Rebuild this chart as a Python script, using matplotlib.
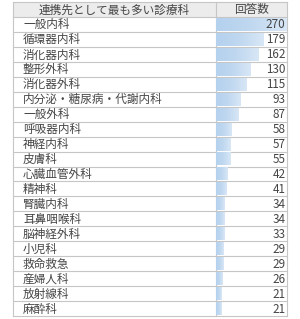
import numpy as np
import matplotlib.pyplot as plt
from matplotlib.colors import LinearSegmentedColormap

plt.rcParams['font.family'] = ['Noto Sans CJK JP', 'DejaVu Sans']

# -------------------------
# データ
# -------------------------
header_label = "連携先として最も多い診療科"
header_value = "回答数"
depts = ["一般内科", "循環器内科", "消化器内科", "整形外科", "消化器外科",
         "内分泌・糖尿病・代謝内科", "一般外科", "呼吸器内科", "神経内科", "皮膚科",
         "心臓血管外科", "精神科", "腎臓内科", "耳鼻咽喉科", "脳神経外科",
         "小児科", "救命救急", "産婦人科", "放射線科", "麻酔科"]
counts = [270, 179, 162, 130, 115, 93, 87, 58, 57, 55,
          42, 41, 34, 34, 33, 29, 29, 26, 21, 21]

# -------------------------
# レイアウト (ピクセル)
# -------------------------
W, H = 300, 319
left, mid, right = 13, 216, 287
top, head_bot, bottom = 2, 17, 316
n = len(depts)
row_h = (bottom - head_bot) / n
grid = "#c6c6c6"
txt = "#454545"
fs = 8.4

fig = plt.figure(figsize=(W / 100, H / 100), dpi=100)
ax = fig.add_axes([0, 0, 1, 1])
ax.set_xlim(0, W)
ax.set_ylim(H, 0)
ax.axis("off")

# ヘッダー
ax.add_patch(plt.Rectangle((left, top), right - left, head_bot - top,
                           facecolor="#ececec", edgecolor="none"))
ax.text((left + mid) / 2, (top + head_bot) / 2 + 0.5, header_label,
        ha="center", va="center", fontsize=fs, color=txt)
ax.text((mid + right) / 2, (top + head_bot) / 2 + 0.5, header_value,
        ha="center", va="center", fontsize=fs, color=txt)

# データバー用の軸
bx = fig.add_axes([mid / W, 1 - bottom / H, (right - mid) / W, (bottom - head_bot) / H])
bx.axis("off")
cmap = LinearSegmentedColormap.from_list("bar", ["#b4d1ee", "#c0d8f0", "#d8e7f6"])
grad = np.linspace(0, 1, 64).reshape(1, -1)
bars = bx.barh(range(n), counts, height=0.86, color="none")
for b in bars:
    x0, y0 = b.get_x(), b.get_y()
    bx.imshow(grad, cmap=cmap, aspect="auto",
              extent=(x0, x0 + b.get_width(), y0 + b.get_height(), y0), zorder=1)
bx.set_xlim(0, max(counts) * 1.0)
bx.set_ylim(n - 0.5, -0.5)

# 行テキスト
for i, (d, c) in enumerate(zip(depts, counts)):
    yc = head_bot + (i + 0.5) * row_h + 0.5
    ax.text(left + 10, yc, d, ha="left", va="center", fontsize=fs, color=txt)
    fig.text((right - 1.5) / W, 1 - yc / H, str(c), ha="right", va="center",
             fontsize=fs, color=txt, zorder=5)

# 罫線
for i in range(n + 1):
    y = head_bot + i * row_h
    ax.plot([left, right], [y, y], color=grid, lw=0.8)
ax.plot([left, right], [top, top], color=grid, lw=0.8)
ax.plot([left, left], [top, bottom], color=grid, lw=0.8)
ax.plot([right, right], [top, bottom], color=grid, lw=0.8)
ax.plot([mid, mid], [top, bottom], color=grid, lw=0.8)

fig.savefig("out.png", dpi=100)
